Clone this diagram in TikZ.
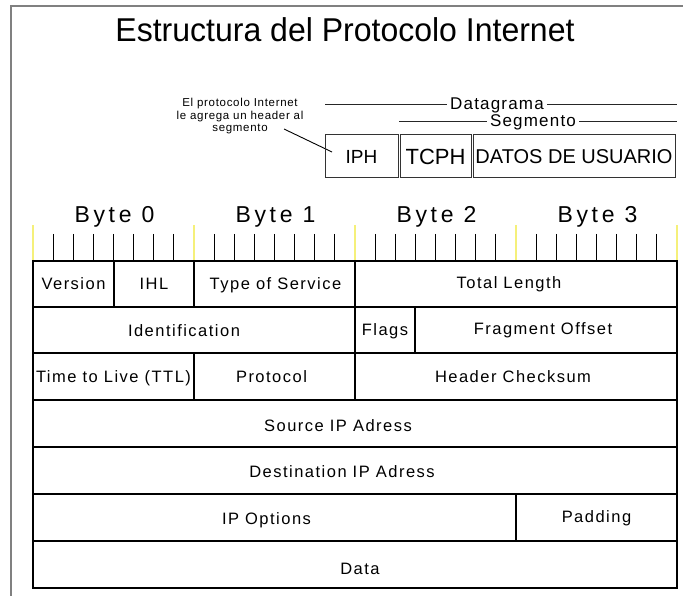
\documentclass[tikz,border=0pt]{standalone}
\usepackage{fontspec}
\setmainfont{Liberation Sans}
\newfontfamily\spacedfont[LetterSpace=9]{Liberation Sans}
\newfontfamily\bytefont[LetterSpace=16]{Liberation Sans}
\newfontfamily\segfont[LetterSpace=7]{Liberation Sans}
\newfontfamily\notefont[LetterSpace=6]{Liberation Sans}
\newfontfamily\titlefont[FakeStretch=0.97]{Liberation Sans}
\definecolor{framegray}{HTML}{808080}
\definecolor{rulery}{HTML}{F5F07A}
\tikzset{
  cell/.style={draw=black, line width=1.2pt, inner sep=0pt, rectangle,
    font=\spacedfont\fontsize{16.5}{19}\selectfont},
  topbox/.style={draw=black!80, line width=1pt, inner sep=0pt, rectangle,
    font=\fontsize{20}{24}\selectfont},
  bytelbl/.style={font=\bytefont\fontsize{23}{26}\selectfont, inner sep=0pt},
  seglbl/.style={font=\segfont\fontsize{17}{20}\selectfont, inner sep=3pt},
  segline/.style={draw=black!85, line width=1pt},
  tick/.style={draw=black, line width=0.8pt},
  ytick/.style={draw=rulery, line width=1.6pt},
  framel/.style={draw=framegray, line width=2pt},
  lbl/.style={inner sep=0pt, font=\spacedfont\fontsize{16.5}{19}\selectfont}
}
% box from (x1,y1) to (x2,y2): #1 style, #2 name, #3..#6 coords, #7 text, #8 dx, #9 dy
\newcommand\boxnode[9]{%
  \pgfmathsetmacro{\bxc}{(#3+#5)/2}%
  \pgfmathsetmacro{\byc}{(#4+#6)/2}%
  \pgfmathsetmacro{\bw}{#5-#3}%
  \pgfmathsetmacro{\bh}{#6-#4}%
  \node[#1, minimum width=\bw pt, minimum height=\bh pt] (#2) at (\bxc,\byc) {};
  \node[lbl, #1, draw=none, minimum width=0pt, minimum height=0pt, xshift=#8pt, yshift=-#9pt] (#2-t) at (#2.center) {#7};}
\begin{document}
\begin{tikzpicture}[x=1pt,y=-1pt]
\useasboundingbox (0,0) rectangle (683,596);
% outer frame
\coordinate (fbl) at (11,597);
\coordinate (ftl) at (11,6);
\coordinate (ftr) at (684,6);
\draw[framel] (fbl) -- (ftl) -- (ftr);

% title
\node[font=\titlefont\fontsize{33}{38}\selectfont, inner sep=0pt] (title) at (345,30) {Estructura del Protocolo Internet};

% annotation
\node[font=\notefont\fontsize{11.5}{12.5}\selectfont, align=center, inner sep=0pt] (note) at (240,116.5)
  {El protocolo Internet\\le agrega un header al\\segmento};
\coordinate (nstart) at (284,129);
\coordinate (ntip) at (332,152);
\draw[line width=0.9pt] (nstart) -- (ntip);

% Datagrama / Segmento
\node[seglbl] (dg) at (497,105) {Datagrama};
\coordinate (dgl) at (325,105);
\coordinate (dgr) at (677,105);
\draw[segline] (dgl) -- (dg.west);
\draw[segline] (dg.east) -- (dgr);
\node[seglbl] (sg) at (533,122) {Segmento};
\coordinate (sgl) at (399,122);
\coordinate (sgr) at (677,122);
\draw[segline] (sgl) -- (sg.west);
\draw[segline] (sg.east) -- (sgr);

% top boxes
\boxnode{topbox, font=\fontsize{19}{22}\selectfont}{iph}{325}{135}{398}{178}{IPH}{0}{0}
\boxnode{topbox, font=\fontsize{22}{26}\selectfont}{tcph}{400}{135}{471}{178}{TCPH}{0}{0}
\boxnode{topbox}{datos}{473}{135}{675}{178}{DATOS DE USUARIO}{0}{0}

% byte labels
\node[bytelbl] (b0) at (114.5,217) {Byte 0};
\node[bytelbl] (b1) at (275.5,217) {Byte 1};
\node[bytelbl] (b2) at (436.5,217) {Byte 2};
\node[bytelbl] (b3) at (597.5,217) {Byte 3};

% ruler ticks
\foreach \i in {0,...,32} {
  \pgfmathsetmacro{\xx}{33+\i*20.125}
  \pgfmathtruncatemacro{\rr}{mod(\i,8)}
  \ifnum\rr=0
    \draw[ytick] (\xx,225) -- (\xx,260);
  \else
    \draw[tick] (\xx,234) -- (\xx,260);
  \fi
}

% header table
\boxnode{cell}{ver}{33}{261}{114}{307}{Version}{0}{0}
\boxnode{cell}{ihl}{114}{261}{194}{307}{IHL}{0}{0}
\boxnode{cell}{tos}{194}{261}{355}{307}{Type of Service}{1}{1}
\boxnode{cell}{tlen}{355}{261}{677}{307}{Total Length}{-7}{0}

\boxnode{cell}{ident}{33}{307}{355}{353}{Identification}{-10}{1}
\boxnode{cell}{flags}{355}{307}{415}{353}{Flags}{0}{1}
\boxnode{cell}{frag}{415}{307}{677}{353}{Fragment Offset}{-3}{0}

\boxnode{cell}{ttl}{33}{353}{194}{400}{Time to Live (TTL)}{0}{2}
\boxnode{cell}{proto}{194}{353}{355}{400}{Protocol}{-3}{0}
\boxnode{cell}{chk}{355}{353}{677}{400}{Header Checksum}{-3}{0}

\boxnode{cell}{src}{33}{400}{677}{447}{Source IP Adress}{-17}{2}
\boxnode{cell}{dst}{33}{447}{677}{494}{Destination IP Adress}{-13}{1}

\boxnode{cell}{opts}{33}{494}{516}{541}{IP Options}{-8}{3}
\boxnode{cell}{pad}{516}{494}{677}{541}{Padding}{0}{1}

\boxnode{cell}{data}{33}{541}{677}{588}{Data}{5}{4}
\end{tikzpicture}
\end{document}
